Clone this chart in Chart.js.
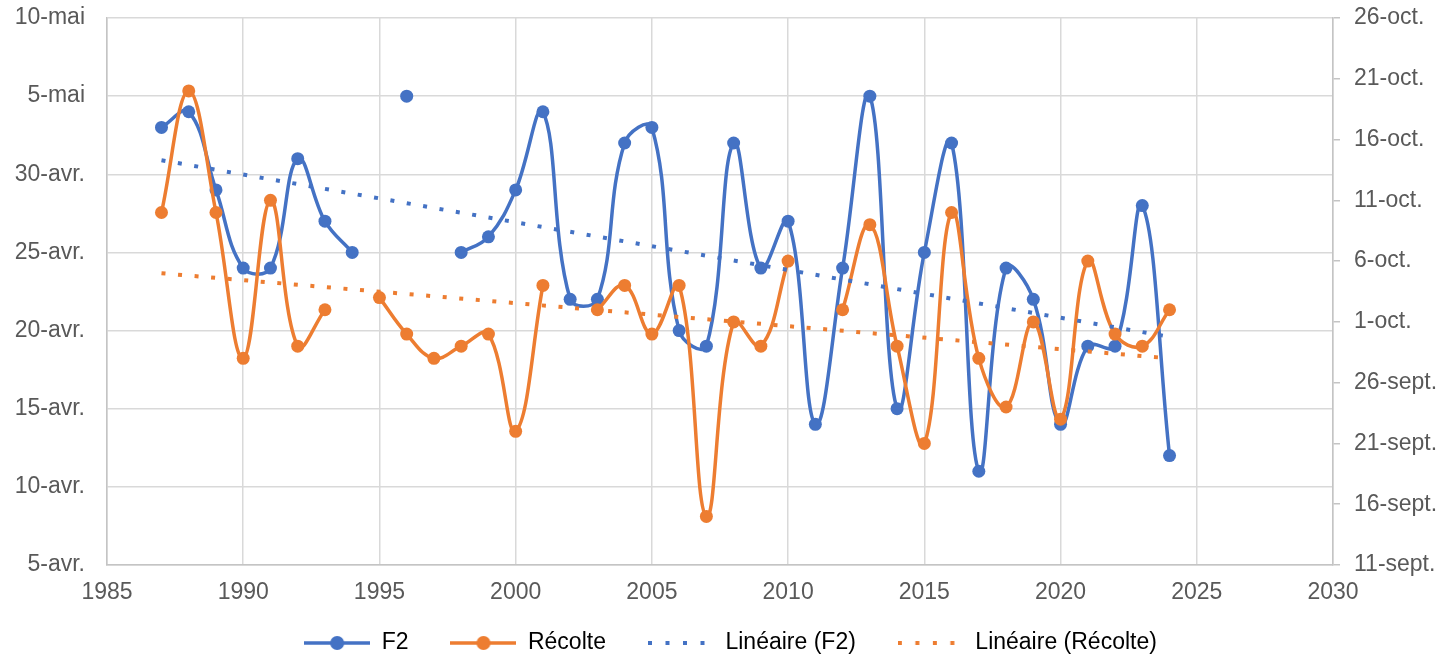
<!DOCTYPE html>
<html><head><meta charset="utf-8">
<script src="https://cdn.jsdelivr.net/npm/chart.js@4.4.1/dist/chart.umd.min.js"></script>
<style>html,body{margin:0;padding:0;background:#fff;overflow:hidden}#wrap{width:1441px;height:660px}</style>
</head><body><div id="wrap"><canvas id="c" width="1441" height="660"></canvas></div>
<script>
// ---- data ----
const years = [1987,1988,1989,1990,1991,1992,1993,1994,1995,1996,1997,1998,1999,2000,2001,2002,2003,2004,2005,2006,2007,2008,2009,2010,2011,2012,2013,2014,2015,2016,2017,2018,2019,2020,2021,2022,2023,2024];
// F2: day number counted from 31 March (5 = 5-avr., 35 = 5-mai)
const f2Days = [33,34,29,24,24,31,27,25,null,35,null,25,26,29,34,22,22,32,33,20,19,32,24,27,14,24,35,15,25,32,11,24,22,14,19,19,28,12];
// Récolte: day number counted from 31 August (11 = 11-sept., 31 = 1-oct.)
const recolteDays = [40,50,40,28,41,29,32,null,33,30,28,29,30,22,34,null,32,34,30,34,15,31,29,36,null,32,39,29,21,40,28,24,31,23,36,30,29,32];
const trendYears = [1987, 2024];
const trendF2 = [30.9, 19.6];
const trendRecolte = [35.0, 28.0];
const leftTickLabels = ['5-avr.','10-avr.','15-avr.','20-avr.','25-avr.','30-avr.','5-mai','10-mai'];
const rightTickLabels = ['11-sept.','16-sept.','21-sept.','26-sept.','1-oct.','6-oct.','11-oct.','16-oct.','21-oct.','26-oct.'];
const xTickLabels = ['1985','1990','1995','2000','2005','2010','2015','2020','2025','2030'];
const seriesNames = ['F2','Récolte','Linéaire (F2)','Linéaire (Récolte)'];

const BLUE = '#4472C4', ORANGE = '#ED7D31', GRID = '#D9D9D9', AXIS = '#C4C4C4', TEXT = '#595959';
const LEGEND_CENTER_Y = 643;
const LEGEND_SHIFT_X = 20;

function pts(xs, ys){ return xs.map((x,i)=>({x:x, y:ys[i]})); }

function legendMarker(color, dotted){
  const c = document.createElement('canvas');
  c.width = 66; c.height = 16;
  const g = c.getContext('2d');
  g.strokeStyle = color; g.fillStyle = color;
  if (dotted){
    g.lineWidth = 4; g.setLineDash([4,13.5]);
    g.beginPath(); g.moveTo(0,8); g.lineTo(66,8); g.stroke();
  } else {
    g.lineWidth = 3.5;
    g.beginPath(); g.moveTo(0,8); g.lineTo(66,8); g.stroke();
    g.beginPath(); g.arc(33,8,7,0,Math.PI*2); g.fill();
  }
  return c;
}
const markers = [legendMarker(BLUE,false), legendMarker(ORANGE,false), legendMarker(BLUE,true), legendMarker(ORANGE,true)];

const legendPlacement = {
  id: 'legendPlacement',
  beforeLayout(chart){
    const lg = chart.legend;
    if (lg && !lg._patched){
      const fit = lg.fit.bind(lg);
      lg.fit = function(){ fit(); this.height = 50; };
      lg._patched = true;
    }
  },
  afterLayout(chart){
    const lg = chart.legend;
    if (!lg) return;
    const pad = lg.options.labels.padding;
    const fs = lg.options.labels.font.size || 23;
    const dy = LEGEND_CENTER_Y - (lg.top + pad + fs/2);
    lg.top += dy;
    lg.left += LEGEND_SHIFT_X;
  }
};

function noVPad(s){ s.paddingTop = 0; s.paddingBottom = 0; }

Chart.defaults.font.family = "'Liberation Sans', Arial, sans-serif";
Chart.defaults.font.size = 23;
Chart.defaults.color = TEXT;

new Chart(document.getElementById('c'), {
  type: 'line',
  plugins: [legendPlacement],
  data: {
    datasets: [
      { label: seriesNames[0], data: pts(years, f2Days), yAxisID: 'y', borderColor: BLUE, backgroundColor: BLUE,
        borderWidth: 3.5, pointRadius: 6.5, pointHoverRadius: 6.5, pointBorderWidth: 0, tension: 0.4, spanGaps: false, order: 4 },
      { label: seriesNames[1], data: pts(years, recolteDays), yAxisID: 'y2', borderColor: ORANGE, backgroundColor: ORANGE,
        borderWidth: 3.5, pointRadius: 6.5, pointHoverRadius: 6.5, pointBorderWidth: 0, tension: 0.4, spanGaps: false, order: 3 },
      { label: seriesNames[2], data: pts(trendYears, trendF2), yAxisID: 'y', borderColor: BLUE, borderWidth: 4,
        borderDash: [4, 12.6], pointRadius: 0, tension: 0, order: 2 },
      { label: seriesNames[3], data: pts(trendYears, trendRecolte), yAxisID: 'y2', borderColor: ORANGE, borderWidth: 4,
        borderDash: [4, 12.6], pointRadius: 0, tension: 0, order: 1 }
    ]
  },
  options: {
    responsive: false, animation: false, devicePixelRatio: 1,
    layout: { padding: { top: 18, left: 0, right: 0, bottom: 0 } },
    plugins: {
      tooltip: { enabled: false },
      legend: {
        position: 'bottom', align: 'center',
        labels: {
          usePointStyle: true, pointStyleWidth: 66, padding: 42, color: TEXT,
          font: { size: 23 },
          generateLabels: (chart) => seriesNames.map((n,i)=>({
            text: n, pointStyle: markers[i], datasetIndex: i, hidden: false,
            fillStyle: 'rgba(0,0,0,0)', strokeStyle: 'rgba(0,0,0,0)', lineWidth: 0
          }))
        }
      }
    },
    scales: {
      x: {
        type: 'linear', min: 1985, max: 2030,
        afterFit: (s) => { s.height = 45; },
        ticks: { stepSize: 5, padding: 14, maxRotation: 0, autoSkip: false,
          callback: (v) => xTickLabels[Math.round((v-1985)/5)] },
        grid: { color: GRID, lineWidth: 1.5, drawTicks: false },
        border: { color: AXIS, width: 1.5 }
      },
      y: {
        position: 'left', min: 5, max: 40,
        afterFit: (s) => { s.width = 107; noVPad(s); },
        ticks: { stepSize: 5, padding: 22, autoSkip: false,
          callback: (v) => leftTickLabels[Math.round((v-5)/5)] },
        grid: { color: GRID, lineWidth: 1.5, drawTicks: false },
        border: { color: AXIS, width: 1.5 }
      },
      y2: {
        position: 'right', min: 11, max: 56,
        afterFit: (s) => { s.width = 108; noVPad(s); },
        ticks: { stepSize: 5, padding: 14, autoSkip: false,
          callback: (v) => rightTickLabels[Math.round((v-11)/5)] },
        grid: { drawOnChartArea: false, color: AXIS, lineWidth: 1.5, drawTicks: true, tickLength: 7 },
        border: { color: AXIS, width: 1.5 }
      }
    }
  }
});
</script></body></html>
